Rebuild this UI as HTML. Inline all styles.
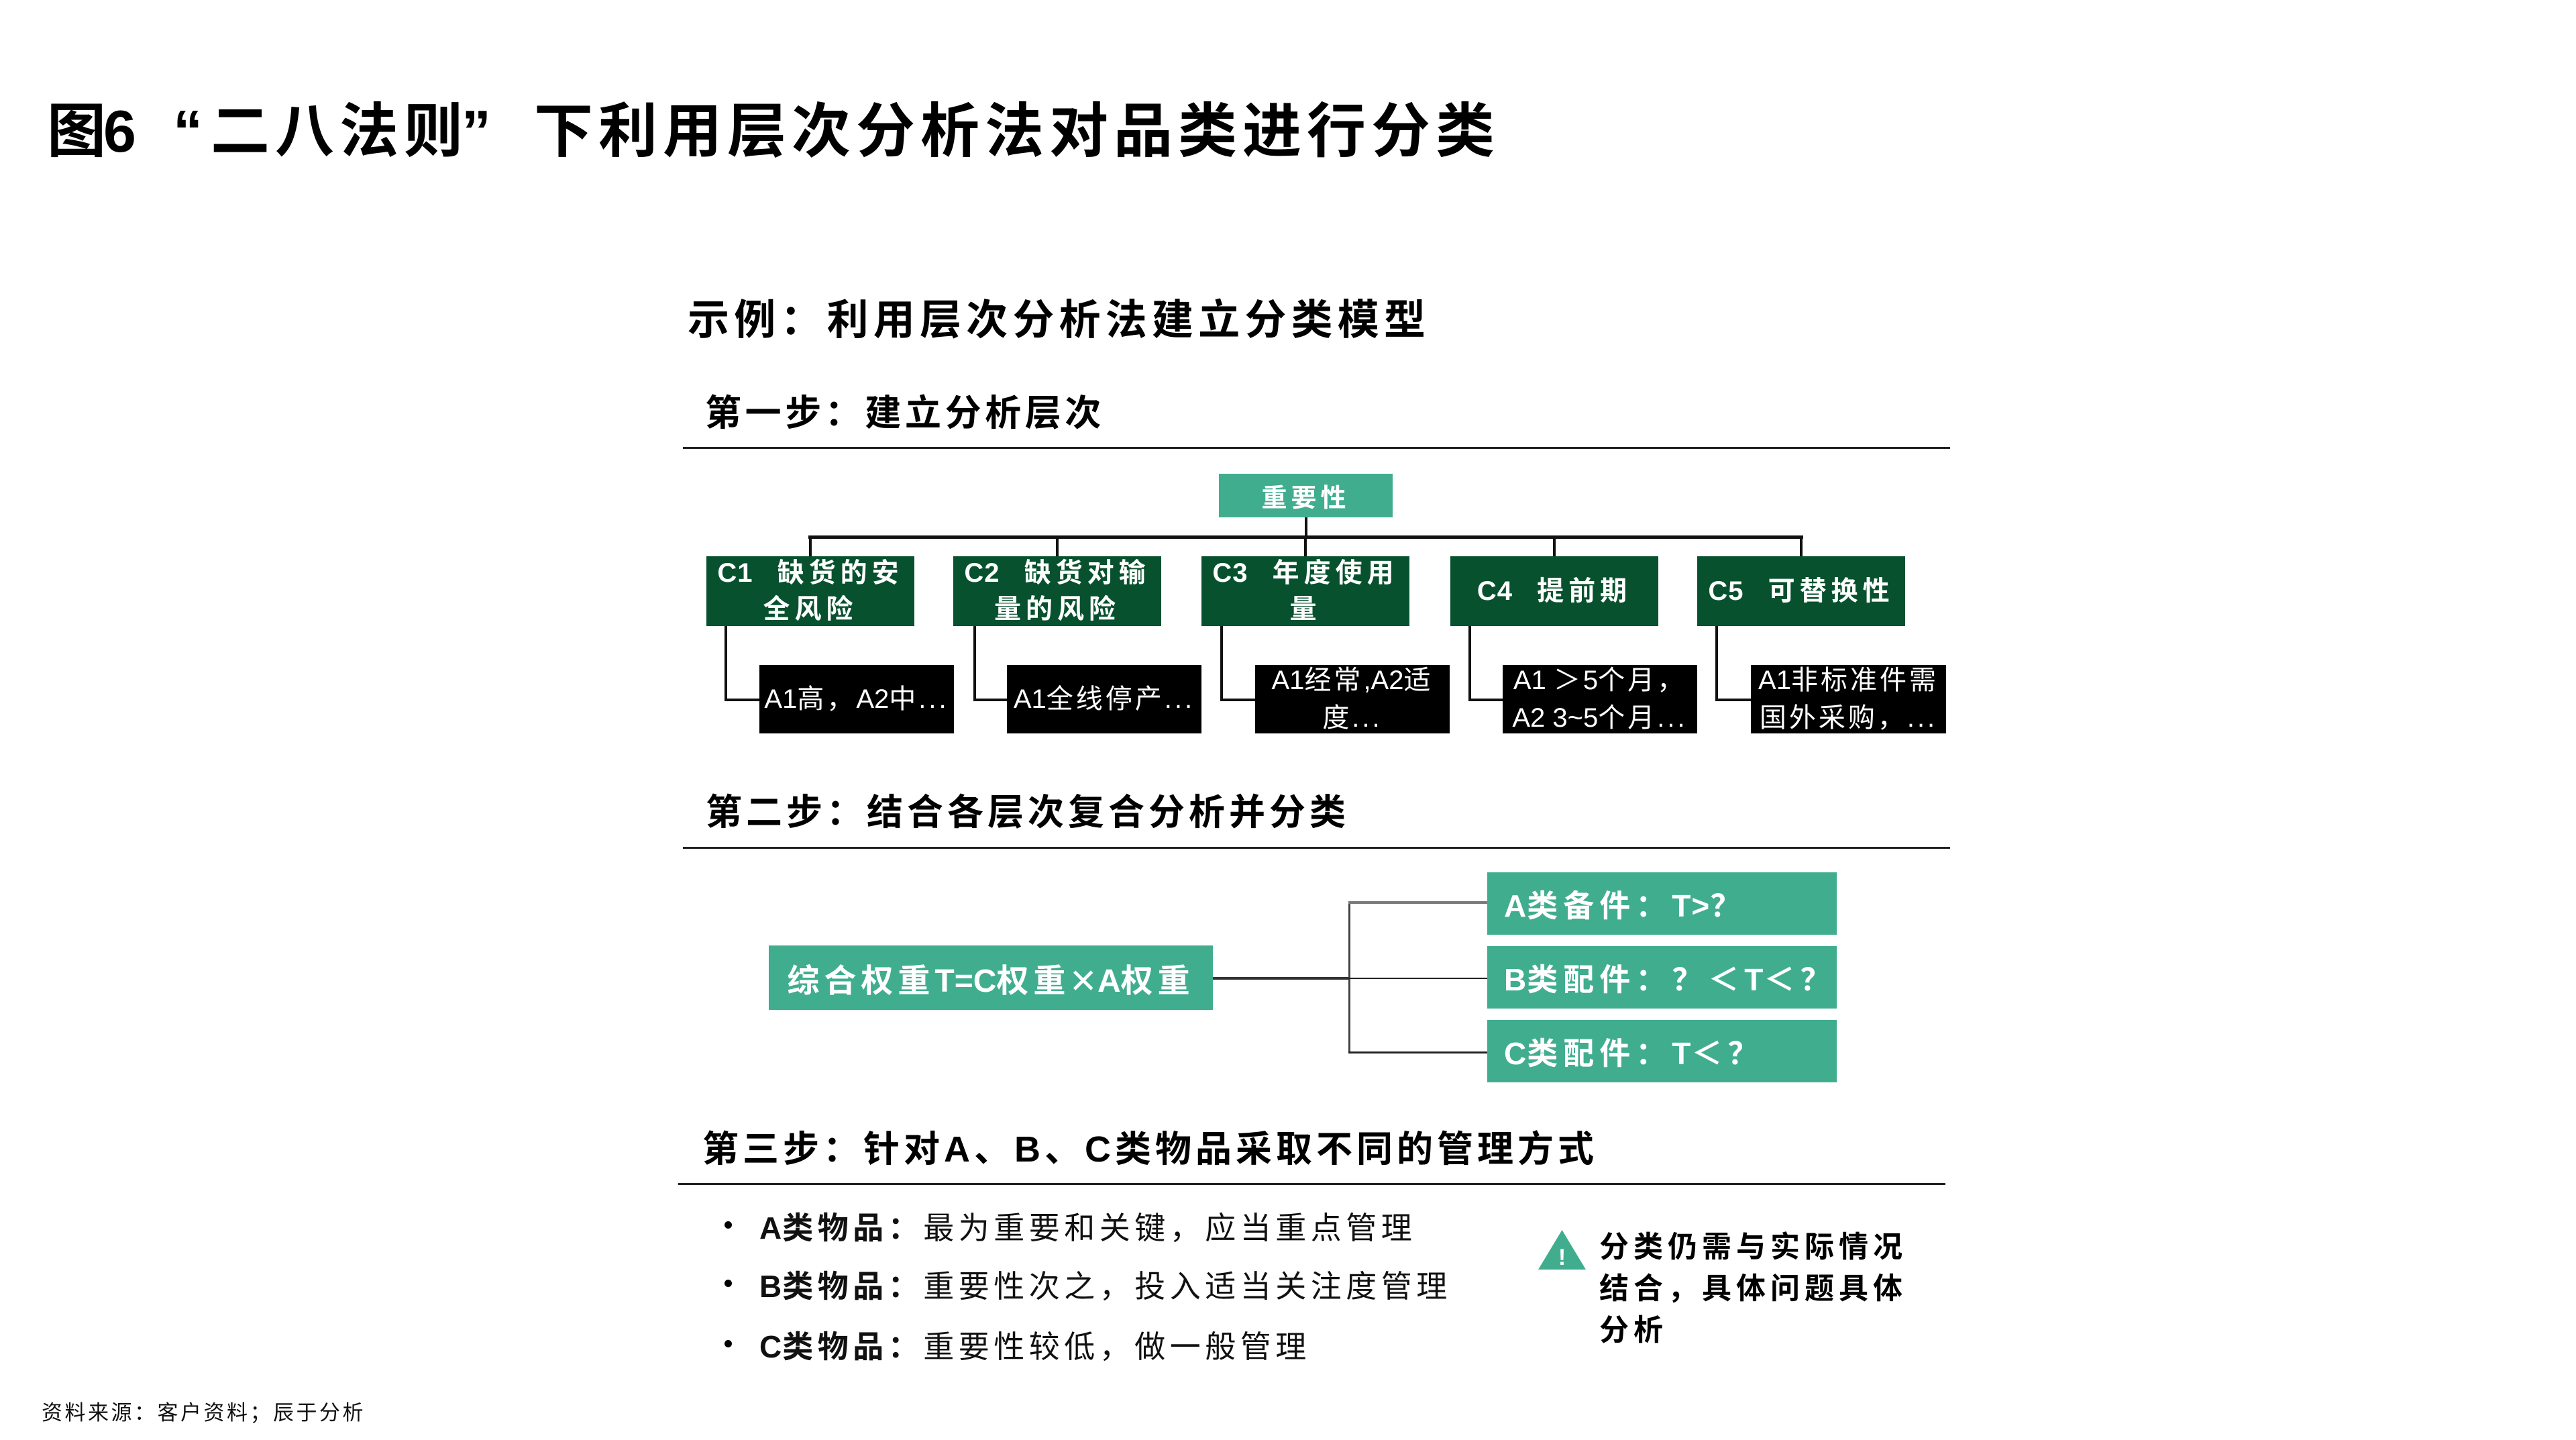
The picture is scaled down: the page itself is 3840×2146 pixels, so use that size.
<!DOCTYPE html>
<html><head><meta charset="utf-8">
<style>
*{margin:0;padding:0;box-sizing:border-box}
html,body{width:3840px;height:2146px;background:#fff;overflow:hidden}
body{position:relative;font-family:"Liberation Sans","Noto Sans CJK SC",sans-serif;color:#000}
.a{position:absolute;white-space:nowrap}
.b{font-weight:700}
.ln{position:absolute;background:#111}
.box{position:absolute;display:flex;align-items:center;justify-content:center;text-align:center;color:#fff;white-space:nowrap}
.tl{background:#41ad8f}
.dg{background:#07512e}
.bk{background:#000}
.cb{font-size:40px;font-weight:700;letter-spacing:7px;line-height:54px}
.ab{font-size:40px;font-weight:400;letter-spacing:4px;line-height:56px}
.lt{letter-spacing:0}
.l1{letter-spacing:1px}
.dot{position:absolute;width:11px;height:11px;border-radius:50%;background:#000}
</style></head><body>

<!-- Title -->
<div class="a b" style="left:70px;top:152px;font-size:88px;line-height:88px;letter-spacing:-4px">图6</div>
<div class="a b" style="left:258px;top:152px;font-size:88px;line-height:88px">“</div>
<div class="a b" style="left:314px;top:152px;font-size:88px;line-height:88px;letter-spacing:8px">二八法则</div>
<div class="a b" style="left:688px;top:152px;font-size:88px;line-height:88px">”</div>
<div class="a b" style="left:796px;top:152px;font-size:88px;line-height:88px;letter-spacing:8px">下利用层次分析法对品类进行分类</div>

<!-- Subtitle -->
<div class="a b" style="left:1025px;top:447px;font-size:62px;line-height:62px;letter-spacing:7.2px">示例：利用层次分析法建立分类模型</div>

<!-- Step 1 -->
<div class="a b" style="left:1051px;top:589px;font-size:54px;line-height:54px;letter-spacing:5.6px">第一步：建立分析层次</div>
<div class="ln" style="left:1018px;top:666px;width:1889px;height:3px;background:#222"></div>

<!-- Root -->
<div class="box tl b" style="left:1817px;top:706px;width:259px;height:65px;font-size:38px;letter-spacing:6px">重要性</div>
<div class="ln" style="left:1945px;top:771px;width:4px;height:30px"></div>
<div class="ln" style="left:1205px;top:798px;width:1483px;height:5px"></div>
<div class="ln" style="left:1206px;top:800px;width:4px;height:29px"></div>
<div class="ln" style="left:1574px;top:800px;width:4px;height:29px"></div>
<div class="ln" style="left:1944px;top:800px;width:4px;height:29px"></div>
<div class="ln" style="left:2315px;top:800px;width:4px;height:29px"></div>
<div class="ln" style="left:2683px;top:800px;width:4px;height:29px"></div>

<!-- C boxes -->
<div class="box dg cb" style="left:1053px;top:829px;width:310px;height:104px"><span><span class="l1">C1</span>&nbsp; 缺货的安<br>全风险</span></div>
<div class="box dg cb" style="left:1421px;top:829px;width:310px;height:104px"><span><span class="l1">C2</span>&nbsp; 缺货对输<br>量的风险</span></div>
<div class="box dg cb" style="left:1791px;top:829px;width:310px;height:104px"><span><span class="l1">C3</span>&nbsp; 年度使用<br>量</span></div>
<div class="box dg cb" style="left:2162px;top:829px;width:310px;height:104px"><span><span class="l1">C4</span>&nbsp; 提前期</span></div>
<div class="box dg cb" style="left:2530px;top:829px;width:310px;height:104px"><span><span class="l1">C5</span>&nbsp; 可替换性</span></div>

<!-- Elbows -->
<div class="ln" style="left:1080px;top:933px;width:4px;height:112px"></div>
<div class="ln" style="left:1080px;top:1041px;width:52px;height:4px"></div>
<div class="ln" style="left:1451px;top:933px;width:4px;height:112px"></div>
<div class="ln" style="left:1451px;top:1041px;width:50px;height:4px"></div>
<div class="ln" style="left:1819px;top:933px;width:4px;height:112px"></div>
<div class="ln" style="left:1819px;top:1041px;width:52px;height:4px"></div>
<div class="ln" style="left:2189px;top:933px;width:4px;height:112px"></div>
<div class="ln" style="left:2189px;top:1041px;width:51px;height:4px"></div>
<div class="ln" style="left:2557px;top:933px;width:4px;height:112px"></div>
<div class="ln" style="left:2557px;top:1041px;width:53px;height:4px"></div>

<!-- A boxes -->
<div class="box bk ab" style="left:1132px;top:991px;width:290px;height:102px"><span><span class="lt">A1</span>高，<span class="lt">A2</span>中...</span></div>
<div class="box bk ab" style="left:1501px;top:991px;width:290px;height:102px"><span><span class="lt">A1</span>全线停产...</span></div>
<div class="box bk ab" style="left:1871px;top:991px;width:290px;height:102px"><span><span class="lt">A1</span>经常<span class="lt">,A2</span>适<br>度...</span></div>
<div class="box bk ab" style="left:2240px;top:991px;width:290px;height:102px"><span><span class="lt">A1 </span>＞<span class="lt">5</span>个月，<br><span class="lt">A2 3~5</span>个月...</span></div>
<div class="box bk ab" style="left:2610px;top:991px;width:291px;height:102px"><span><span class="lt">A1</span>非标准件需<br>国外采购，...</span></div>

<!-- Step 2 -->
<div class="a b" style="left:1052px;top:1184px;font-size:54px;line-height:54px;letter-spacing:6px">第二步：结合各层次复合分析并分类</div>
<div class="ln" style="left:1018px;top:1262px;width:1889px;height:3px;background:#222"></div>

<div class="box tl b" style="left:1146px;top:1409px;width:662px;height:96px;font-size:48px;letter-spacing:7px"><span>综合权重<span class="lt">T=C</span>权重<span style="font-size:66px;letter-spacing:2px;line-height:48px;font-weight:400;position:relative;top:5px">×</span><span class="lt">A</span>权重</span></div>
<div class="ln" style="left:1808px;top:1456px;width:205px;height:4px;background:#333"></div>
<div class="ln" style="left:2010px;top:1344px;width:3px;height:226px;background:#444"></div>
<div class="ln" style="left:2010px;top:1343px;width:207px;height:4px;background:#7a7a7a"></div>
<div class="ln" style="left:2010px;top:1457px;width:207px;height:2px;background:#222"></div>
<div class="ln" style="left:2010px;top:1567px;width:207px;height:3px;background:#222"></div>

<div class="box tl b" style="left:2217px;top:1300px;width:521px;height:93px;justify-content:flex-start;padding-left:25px;font-size:46px;letter-spacing:8px"><span><span class="l1">A</span>类备件：<span class="l1">T&gt;</span>？</span></div>
<div class="box tl b" style="left:2217px;top:1410px;width:521px;height:93px;justify-content:flex-start;padding-left:25px;font-size:46px;letter-spacing:8px"><span><span class="l1">B</span>类配件：？＜<span class="l1">T</span>＜？</span></div>
<div class="box tl b" style="left:2217px;top:1520px;width:521px;height:93px;justify-content:flex-start;padding-left:25px;font-size:46px;letter-spacing:8px"><span><span class="l1">C</span>类配件：<span class="l1">T</span>＜？</span></div>

<!-- Step 3 -->
<div class="a b" style="left:1047px;top:1686px;font-size:54px;line-height:54px;letter-spacing:6px">第三步：针对A、B、C类物品采取不同的管理方式</div>
<div class="ln" style="left:1011px;top:1763px;width:1889px;height:3px;background:#222"></div>

<div class="dot" style="left:1080px;top:1820px"></div>
<div class="dot" style="left:1080px;top:1907px"></div>
<div class="dot" style="left:1080px;top:1997px"></div>
<div class="a" style="left:1132px;top:1804px;font-size:46px;line-height:52px;letter-spacing:6.5px;color:#111"><b><span class="l1">A</span>类物品：</b>最为重要和关键，应当重点管理</div>
<div class="a" style="left:1132px;top:1891px;font-size:46px;line-height:52px;letter-spacing:6.5px;color:#111"><b><span class="l1">B</span>类物品：</b>重要性次之，投入适当关注度管理</div>
<div class="a" style="left:1132px;top:1981px;font-size:46px;line-height:52px;letter-spacing:6.5px;color:#111"><b><span class="l1">C</span>类物品：</b>重要性较低，做一般管理</div>

<svg class="a" style="left:0;top:0" width="3840" height="2146" viewBox="0 0 3840 2146">
  <polygon points="2293,1892 2328.5,1833 2364,1892" fill="#41ad8f"/>
  <text x="2328.5" y="1885" text-anchor="middle" font-family="Liberation Sans, sans-serif" font-weight="700" font-size="34" fill="#fff">!</text>
</svg>
<div class="a b" style="left:2384px;top:1828px;font-size:44px;line-height:62px;letter-spacing:7px">分类仍需与实际情况<br>结合，具体问题具体<br>分析</div>

<!-- Footer -->
<div class="a" style="left:62px;top:2090px;font-size:31px;line-height:32px;letter-spacing:3.5px;color:#111">资料来源：客户资料；辰于分析</div>

</body></html>
